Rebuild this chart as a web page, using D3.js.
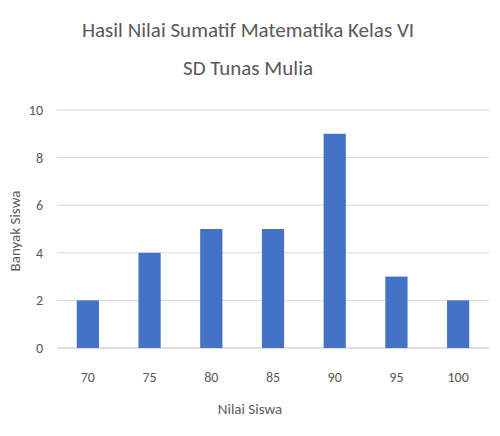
<!DOCTYPE html>
<html>
<head>
<meta charset="utf-8">
<script src="https://cdn.jsdelivr.net/npm/d3@7"></script>
<style>
  body { margin: 0; background: #fff; }
  text { font-family: Calibri, "Liberation Sans", "Open Sans", sans-serif; fill: #595959; }
</style>
</head>
<body>
<svg id="chart" width="500" height="436"></svg>
<script>
// Data
var categories = ['70', '75', '80', '85', '90', '95', '100'];
var counts = [2, 4, 5, 5, 9, 3, 2];
var yTicks = [0, 2, 4, 6, 8, 10];
var titleLines = ['Hasil Nilai Sumatif Matematika Kelas VI', 'SD Tunas Mulia'];

(function() {
    var svg = d3.select('#chart');
    var plotLeft = 57, plotRight = 489, plotTop = 110, plotBottom = 348;

    var x = d3.scaleBand().domain(categories).range([plotLeft, plotRight]).paddingInner(0.64).paddingOuter(0.32);
    var y = d3.scaleLinear().domain([0, 10]).range([plotBottom, plotTop]);

    // Gridlines
    svg.selectAll('line.grid').data(yTicks).enter().append('line')
        .attr('x1', plotLeft).attr('x2', plotRight)
        .attr('y1', function(d) { return y(d); }).attr('y2', function(d) { return y(d); })
        .attr('stroke', function(d) { return d === 0 ? '#bfbfbf' : '#d9d9d9'; })
        .attr('stroke-width', 1);

    // Y tick labels
    svg.selectAll('text.ytick').data(yTicks).enter().append('text')
        .attr('x', 43).attr('y', function(d) { return y(d) + 5; })
        .attr('text-anchor', 'end').attr('font-size', 14)
        .text(function(d) { return d; });

    // Bars
    svg.selectAll('rect.bar').data(counts).enter().append('rect')
        .attr('x', function(d, i) { return x(categories[i]); })
        .attr('width', x.bandwidth())
        .attr('y', function(d) { return y(d); })
        .attr('height', function(d) { return y(0) - y(d); })
        .attr('fill', '#4472c4');

    // X tick labels
    svg.selectAll('text.xtick').data(categories).enter().append('text')
        .attr('x', function(d) { return x(d) + x.bandwidth() / 2; })
        .attr('y', 382).attr('text-anchor', 'middle').attr('font-size', 14)
        .text(function(d) { return d; });

    // Titles
    svg.selectAll('text.title').data(titleLines).enter().append('text')
        .attr('x', 248).attr('y', function(d, i) { return 37 + i * 38; })
        .attr('text-anchor', 'middle').attr('font-size', 21)
        .text(function(d) { return d; });

    svg.append('text')
        .attr('x', 250).attr('y', 414).attr('text-anchor', 'middle').attr('font-size', 15)
        .text('Nilai Siswa');

    svg.append('text')
        .attr('transform', 'translate(20,231) rotate(-90)')
        .attr('text-anchor', 'middle').attr('font-size', 15)
        .text('Banyak Siswa');
})();
</script>
</body>
</html>
